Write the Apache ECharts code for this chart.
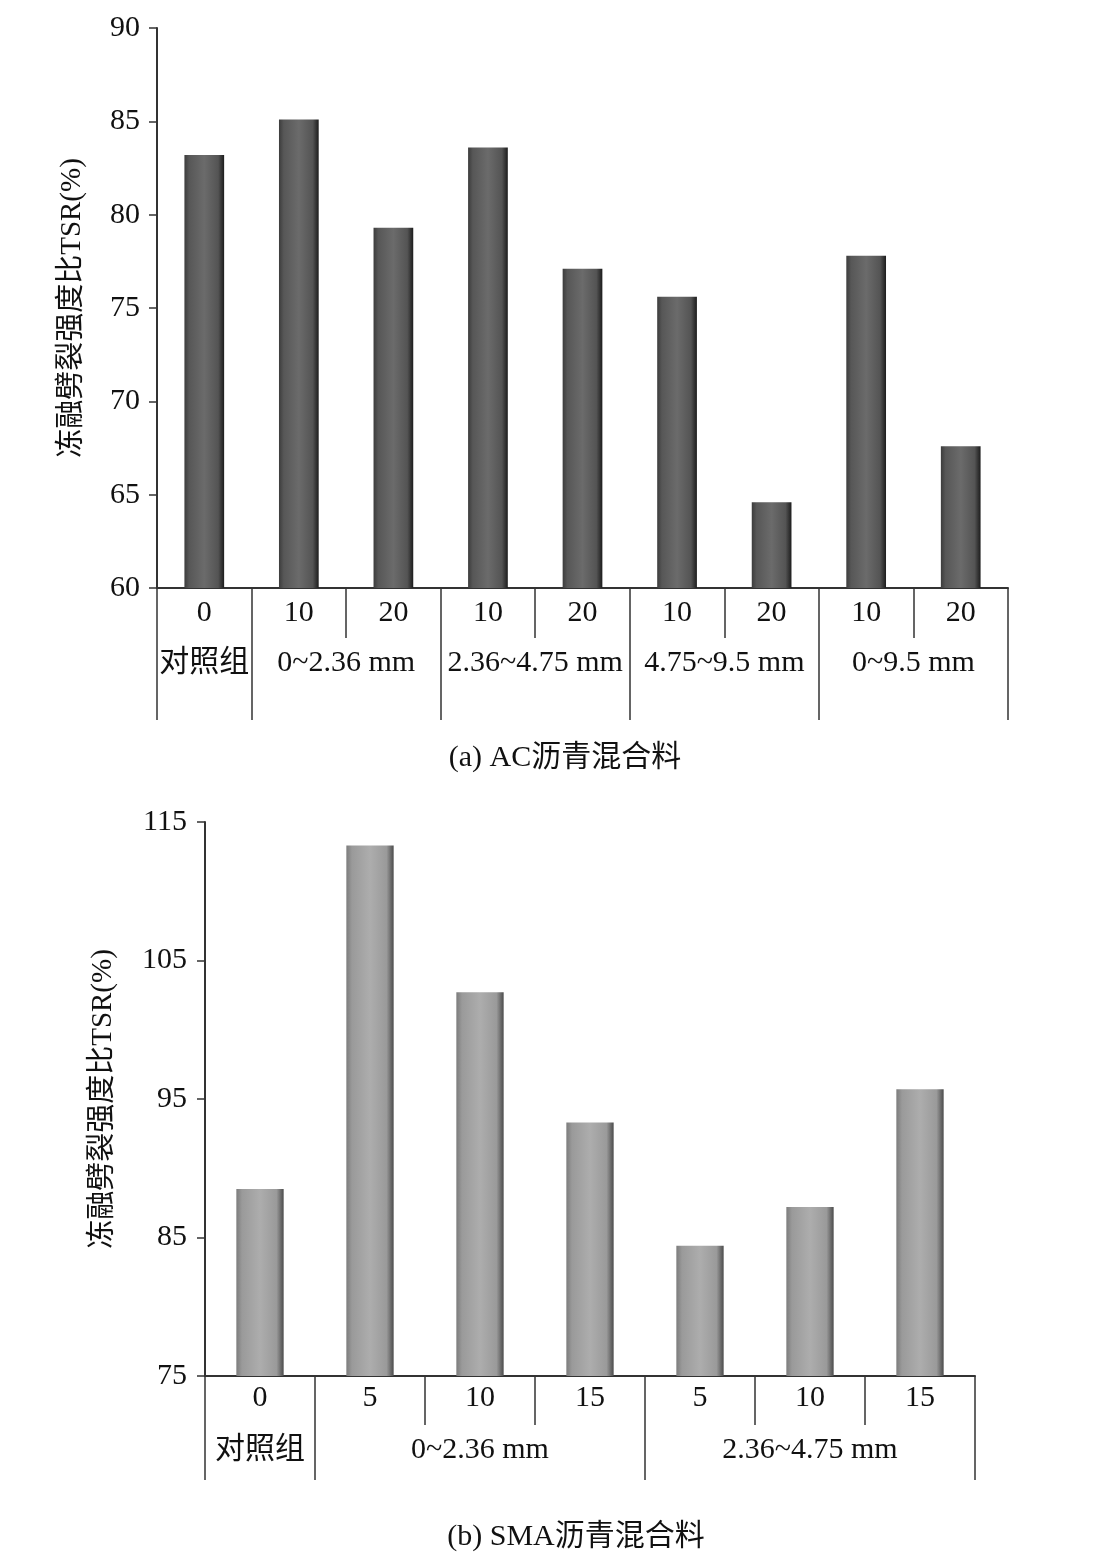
<!DOCTYPE html>
<html><head><meta charset="utf-8">
<script src="https://cdn.jsdelivr.net/npm/echarts@6/dist/echarts.min.js"></script>
<style>html,body{margin:0;padding:0;background:#fff}#c{width:1103px;height:1561px}</style>
</head><body><div id="c"></div>
<script>
// ---- data ----
const acSubLabels = ['0', '10', '20', '10', '20', '10', '20', '10', '20'];
const acValues = [83.2, 85.1, 79.3, 83.6, 77.1, 75.6, 64.6, 77.8, 67.6];
const acGroups = ['对照组', '0~2.36 mm', '2.36~4.75 mm', '4.75~9.5 mm', '0~9.5 mm'];
const acGroupSizes = [1, 2, 2, 2, 2];
const acCaption = '(a) AC沥青混合料';

const smaSubLabels = ['0', '5', '10', '15', '5', '10', '15'];
const smaValues = [88.5, 113.3, 102.7, 93.3, 84.4, 87.2, 95.7];
const smaGroups = ['对照组', '0~2.36 mm', '2.36~4.75 mm'];
const smaGroupSizes = [1, 3, 3];
const smaCaption = '(b) SMA沥青混合料';

const yName = '冻融劈裂强度比TSR(%)';

// ---- helpers ----
const FONT = "'Liberation Serif', 'Noto Sans CJK SC', serif";
const TXT = '#111';
const LINE = '#333';
function groupStarts(sizes) { const s = []; let a = 0; sizes.forEach(n => { s.push(a); a += n; }); return s; }
function groupCenters(sizes) { let a = 0; return sizes.map(n => { const c = a + n / 2; a += n; return c; }); }

const chart = echarts.init(document.getElementById('c'));

function buildX(gi, cats, groups, sizes, subMargin, shortLen, longLen, groupMargin) {
  const starts = groupStarts(sizes);
  const centers = groupCenters(sizes);
  return [
    { type: 'category', gridIndex: gi, data: cats, position: 'bottom',
      axisLine: { show: true, lineStyle: { color: LINE, width: 2 } },
      axisTick: { show: true, interval: 0, length: shortLen, lineStyle: { color: LINE, width: 1.5 } },
      axisLabel: { interval: 0, margin: subMargin, fontSize: 30, fontFamily: FONT, color: TXT } },
    { type: 'category', gridIndex: gi, data: cats, position: 'bottom',
      axisLine: { show: false },
      axisTick: { show: true, interval: (idx) => starts.includes(idx), length: longLen, lineStyle: { color: LINE, width: 1.5 } },
      axisLabel: { show: false } },
    { type: 'value', gridIndex: gi, min: 0, max: cats.length, interval: 0.5, position: 'bottom',
      axisLine: { show: false }, axisTick: { show: false }, splitLine: { show: false },
      axisLabel: { margin: groupMargin, fontSize: 30, fontFamily: FONT, color: TXT,
        showMinLabel: true, showMaxLabel: true,
        formatter: (v) => { const i = centers.findIndex(c => Math.abs(c - v) < 1e-6); return i >= 0 ? groups[i] : ''; } } }
  ];
}

function buildY(gi, min, max, interval, nameGap, margin) {
  return { type: 'value', gridIndex: gi, min, max, interval,
    name: yName, nameLocation: 'middle', nameRotate: 90, nameGap,
    nameTextStyle: { fontSize: 29, fontFamily: FONT, color: TXT },
    axisLine: { show: true, lineStyle: { color: LINE, width: 2 } },
    axisTick: { show: true, length: 8, lineStyle: { color: LINE, width: 1.5 } },
    axisLabel: { margin, fontSize: 30, fontFamily: FONT, color: TXT },
    splitLine: { show: false } };
}

const darkBar = new echarts.graphic.LinearGradient(0, 0, 1, 0, [
  { offset: 0, color: '#3c3c3c' }, { offset: 0.12, color: '#575757' },
  { offset: 0.5, color: '#6b6b6b' }, { offset: 0.85, color: '#545454' }, { offset: 1, color: '#1c1c1c' }]);
const lightBar = new echarts.graphic.LinearGradient(0, 0, 1, 0, [
  { offset: 0, color: '#7c7c7c' }, { offset: 0.12, color: '#9a9a9a' },
  { offset: 0.5, color: '#adadad' }, { offset: 0.85, color: '#9a9a9a' }, { offset: 1, color: '#4c4c4c' }]);

const option = {
  backgroundColor: '#fff',
  animation: false,
  grid: [
    { left: 157, right: 95, top: 28, bottom: 973 },
    { left: 205, right: 128, top: 822, bottom: 185 }
  ],
  xAxis: [
    ...buildX(0, acSubLabels, acGroups, acGroupSizes, 10, 50, 132, 60),
    ...buildX(1, smaSubLabels, smaGroups, smaGroupSizes, 7, 49, 104, 59)
  ],
  yAxis: [
    buildY(0, 60, 90, 5, 70, 17),
    buildY(1, 75, 115, 10, 87, 18)
  ],
  series: [
    { type: 'bar', xAxisIndex: 0, yAxisIndex: 0, data: acValues, barWidth: '42%',
      itemStyle: { color: darkBar } },
    { type: 'bar', xAxisIndex: 3, yAxisIndex: 1, data: smaValues, barWidth: '43%',
      itemStyle: { color: lightBar } }
  ],
  graphic: [
    { type: 'text', x: 565, y: 758, style: { text: acCaption, font: '30px ' + FONT, fill: TXT, textAlign: 'center', textVerticalAlign: 'middle' } },
    { type: 'text', x: 576, y: 1537, style: { text: smaCaption, font: '30px ' + FONT, fill: TXT, textAlign: 'center', textVerticalAlign: 'middle' } }
  ]
};
chart.setOption(option);
</script></body></html>
